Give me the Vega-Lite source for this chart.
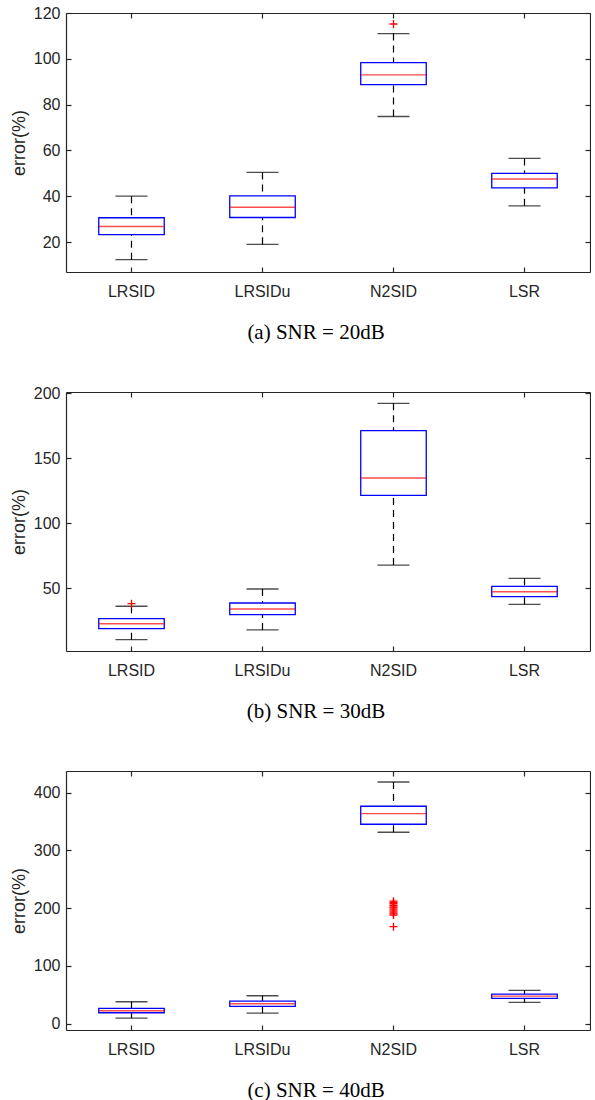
{
  "$schema": "https://vega.github.io/schema/vega-lite/v6.json",
  "background": "white",
  "padding": {"left": 10, "top": 5, "right": 0, "bottom": 0},
  "bounds": "flush",
  "spacing": 120,
  "config": {
    "view": {"stroke": null},
    "axis": {
      "domainColor": "#262626", "domainWidth": 1.2,
      "tickColor": "#262626", "tickWidth": 1.2, "tickSize": -5,
      "labelColor": "#262626", "labelFont": "Liberation Sans", "labelFontSize": 16,
      "titleColor": "#262626", "titleFont": "Liberation Sans", "titleFontSize": 18, "titleFontWeight": "normal",
      "grid": false
    },
    "title": {"font": "Liberation Serif", "fontSize": 21, "fontWeight": "normal", "color": "#000000", "orient": "bottom", "anchor": "middle", "frame": "group", "offset": 23, "dx": -12}
  },
  "datasets": {
    "boxes": [
      {"panel": "a", "method": "LRSID", "lower": 12.3, "q1": 23.2, "median": 26.8, "q3": 30.6, "upper": 40},
      {"panel": "a", "method": "LRSIDu", "lower": 19, "q1": 30.7, "median": 35.2, "q3": 40.1, "upper": 50.4},
      {"panel": "a", "method": "N2SID", "lower": 74.8, "q1": 88.7, "median": 93, "q3": 98.3, "upper": 111},
      {"panel": "a", "method": "LSR", "lower": 35.8, "q1": 43.6, "median": 47.5, "q3": 50, "upper": 56.5},
      {"panel": "b", "method": "LRSID", "lower": 10.5, "q1": 19, "median": 22.8, "q3": 26.7, "upper": 36.2},
      {"panel": "b", "method": "LRSIDu", "lower": 18, "q1": 29.7, "median": 34.1, "q3": 38.7, "upper": 49.5},
      {"panel": "b", "method": "N2SID", "lower": 67.9, "q1": 121.5, "median": 134.9, "q3": 171.3, "upper": 192.3},
      {"panel": "b", "method": "LSR", "lower": 37.7, "q1": 43.6, "median": 47.4, "q3": 51.5, "upper": 57.7},
      {"panel": "c", "method": "LRSID", "lower": 9.8, "q1": 19, "median": 22.5, "q3": 26.5, "upper": 38},
      {"panel": "c", "method": "LRSIDu", "lower": 18.4, "q1": 30, "median": 34.6, "q3": 39.2, "upper": 48.4},
      {"panel": "c", "method": "N2SID", "lower": 331.4, "q1": 345.2, "median": 363.7, "q3": 376.4, "upper": 418.4},
      {"panel": "c", "method": "LSR", "lower": 36.9, "q1": 43.8, "median": 47.8, "q3": 51.3, "upper": 57.6}
    ],
    "outliers": [
      {"panel": "a", "method": "N2SID", "value": 115.2},
      {"panel": "b", "method": "LRSID", "value": 38.2},
      {"panel": "c", "method": "N2SID", "value": 212},
      {"panel": "c", "method": "N2SID", "value": 210},
      {"panel": "c", "method": "N2SID", "value": 208},
      {"panel": "c", "method": "N2SID", "value": 205},
      {"panel": "c", "method": "N2SID", "value": 202},
      {"panel": "c", "method": "N2SID", "value": 200},
      {"panel": "c", "method": "N2SID", "value": 197},
      {"panel": "c", "method": "N2SID", "value": 195},
      {"panel": "c", "method": "N2SID", "value": 192},
      {"panel": "c", "method": "N2SID", "value": 190},
      {"panel": "c", "method": "N2SID", "value": 188},
      {"panel": "c", "method": "N2SID", "value": 168}
    ]
  },
  "resolve": {"scale": {"y": "independent"}},
  "vconcat": [
    {
      "width": 524, "height": 259,
      "title": {"text": "(a)  SNR = 20dB"},
      "layer": [
        {
          "data": {"name": "boxes"},
          "transform": [{"filter": "datum.panel === 'a'"}],
          "layer": [
            {"mark": {"type": "rule", "color": "#000000", "strokeDash": [7, 5], "strokeWidth": 1.2},
             "encoding": {
               "x": {"field": "method", "type": "nominal", "sort": ["LRSID", "LRSIDu", "N2SID", "LSR"], "scale": {"type": "band", "paddingInner": 0, "paddingOuter": 0}, "axis": {"orient": "bottom", "title": null, "labelAngle": 0, "labelPadding": 16}},
               "y": {"field": "lower", "type": "quantitative", "scale": {"domain": [6.9, 120], "nice": false, "zero": false}, "axis": {"orient": "left", "title": "error(%)", "values": [20, 40, 60, 80, 100, 120], "labelPadding": 11, "titlePadding": 5}},
               "y2": {"field": "q1"}
             }},
            {"mark": {"type": "rule", "color": "#000000", "strokeDash": [7, 5], "strokeWidth": 1.2},
             "encoding": {
               "x": {"field": "method", "type": "nominal", "sort": ["LRSID", "LRSIDu", "N2SID", "LSR"], "axis": {"orient": "top", "title": null, "labels": false}},
               "y": {"field": "upper", "type": "quantitative", "axis": {"orient": "right", "title": null, "labels": false, "values": [20, 40, 60, 80, 100, 120]}},
               "y2": {"field": "q3"}
             }},
            {"mark": {"type": "tick", "color": "#000000", "size": 32, "thickness": 1.3},
             "encoding": {"x": {"field": "method", "type": "nominal", "sort": ["LRSID", "LRSIDu", "N2SID", "LSR"], "axis": null}, "y": {"field": "lower", "type": "quantitative", "axis": null}}},
            {"mark": {"type": "tick", "color": "#000000", "size": 32, "thickness": 1.3},
             "encoding": {"x": {"field": "method", "type": "nominal", "sort": ["LRSID", "LRSIDu", "N2SID", "LSR"], "axis": null}, "y": {"field": "upper", "type": "quantitative", "axis": null}}},
            {"mark": {"type": "bar", "fillOpacity": 0, "stroke": "#0000FF", "strokeWidth": 1.3, "width": {"band": 0.5}},
             "encoding": {"x": {"field": "method", "type": "nominal", "sort": ["LRSID", "LRSIDu", "N2SID", "LSR"], "axis": null}, "y": {"field": "q1", "type": "quantitative", "axis": null}, "y2": {"field": "q3"}}},
            {"mark": {"type": "tick", "color": "#FF0000", "size": 65, "thickness": 1.4},
             "encoding": {"x": {"field": "method", "type": "nominal", "sort": ["LRSID", "LRSIDu", "N2SID", "LSR"], "axis": null}, "y": {"field": "median", "type": "quantitative", "axis": null}}}
          ]
        },
        {
          "data": {"name": "outliers"},
          "transform": [{"filter": "datum.panel === 'a'"}],
          "mark": {"type": "point", "shape": "M-1,0L1,0M0,-1L0,1", "filled": false, "stroke": "#FF0000", "strokeWidth": 1.3, "size": 64, "opacity": 1},
          "encoding": {"x": {"field": "method", "type": "nominal", "sort": ["LRSID", "LRSIDu", "N2SID", "LSR"], "axis": null}, "y": {"field": "value", "type": "quantitative", "axis": null}}
        }
      ]
    },
    {
      "width": 524, "height": 259,
      "title": {"text": "(b)  SNR = 30dB"},
      "layer": [
        {
          "data": {"name": "boxes"},
          "transform": [{"filter": "datum.panel === 'b'"}],
          "layer": [
            {"mark": {"type": "rule", "color": "#000000", "strokeDash": [7, 5], "strokeWidth": 1.2},
             "encoding": {
               "x": {"field": "method", "type": "nominal", "sort": ["LRSID", "LRSIDu", "N2SID", "LSR"], "scale": {"type": "band", "paddingInner": 0, "paddingOuter": 0}, "axis": {"orient": "bottom", "title": null, "labelAngle": 0, "labelPadding": 16}},
               "y": {"field": "lower", "type": "quantitative", "scale": {"domain": [1.8, 201], "nice": false, "zero": false}, "axis": {"orient": "left", "title": "error(%)", "values": [50, 100, 150, 200], "labelPadding": 11, "titlePadding": 5}},
               "y2": {"field": "q1"}
             }},
            {"mark": {"type": "rule", "color": "#000000", "strokeDash": [7, 5], "strokeWidth": 1.2},
             "encoding": {
               "x": {"field": "method", "type": "nominal", "sort": ["LRSID", "LRSIDu", "N2SID", "LSR"], "axis": {"orient": "top", "title": null, "labels": false}},
               "y": {"field": "upper", "type": "quantitative", "axis": {"orient": "right", "title": null, "labels": false, "values": [50, 100, 150, 200]}},
               "y2": {"field": "q3"}
             }},
            {"mark": {"type": "tick", "color": "#000000", "size": 32, "thickness": 1.3},
             "encoding": {"x": {"field": "method", "type": "nominal", "sort": ["LRSID", "LRSIDu", "N2SID", "LSR"], "axis": null}, "y": {"field": "lower", "type": "quantitative", "axis": null}}},
            {"mark": {"type": "tick", "color": "#000000", "size": 32, "thickness": 1.3},
             "encoding": {"x": {"field": "method", "type": "nominal", "sort": ["LRSID", "LRSIDu", "N2SID", "LSR"], "axis": null}, "y": {"field": "upper", "type": "quantitative", "axis": null}}},
            {"mark": {"type": "bar", "fillOpacity": 0, "stroke": "#0000FF", "strokeWidth": 1.3, "width": {"band": 0.5}},
             "encoding": {"x": {"field": "method", "type": "nominal", "sort": ["LRSID", "LRSIDu", "N2SID", "LSR"], "axis": null}, "y": {"field": "q1", "type": "quantitative", "axis": null}, "y2": {"field": "q3"}}},
            {"mark": {"type": "tick", "color": "#FF0000", "size": 65, "thickness": 1.4},
             "encoding": {"x": {"field": "method", "type": "nominal", "sort": ["LRSID", "LRSIDu", "N2SID", "LSR"], "axis": null}, "y": {"field": "median", "type": "quantitative", "axis": null}}}
          ]
        },
        {
          "data": {"name": "outliers"},
          "transform": [{"filter": "datum.panel === 'b'"}],
          "mark": {"type": "point", "shape": "M-1,0L1,0M0,-1L0,1", "filled": false, "stroke": "#FF0000", "strokeWidth": 1.3, "size": 64, "opacity": 1},
          "encoding": {"x": {"field": "method", "type": "nominal", "sort": ["LRSID", "LRSIDu", "N2SID", "LSR"], "axis": null}, "y": {"field": "value", "type": "quantitative", "axis": null}}
        }
      ]
    },
    {
      "width": 524, "height": 259,
      "title": {"text": "(c)  SNR = 40dB"},
      "layer": [
        {
          "data": {"name": "boxes"},
          "transform": [{"filter": "datum.panel === 'c'"}],
          "layer": [
            {"mark": {"type": "rule", "color": "#000000", "strokeDash": [7, 5], "strokeWidth": 1.2},
             "encoding": {
               "x": {"field": "method", "type": "nominal", "sort": ["LRSID", "LRSIDu", "N2SID", "LSR"], "scale": {"type": "band", "paddingInner": 0, "paddingOuter": 0}, "axis": {"orient": "bottom", "title": null, "labelAngle": 0, "labelPadding": 16}},
               "y": {"field": "lower", "type": "quantitative", "scale": {"domain": [-10.9, 437.4], "nice": false, "zero": false}, "axis": {"orient": "left", "title": "error(%)", "values": [0, 100, 200, 300, 400], "labelPadding": 11, "titlePadding": 5}},
               "y2": {"field": "q1"}
             }},
            {"mark": {"type": "rule", "color": "#000000", "strokeDash": [7, 5], "strokeWidth": 1.2},
             "encoding": {
               "x": {"field": "method", "type": "nominal", "sort": ["LRSID", "LRSIDu", "N2SID", "LSR"], "axis": {"orient": "top", "title": null, "labels": false}},
               "y": {"field": "upper", "type": "quantitative", "axis": {"orient": "right", "title": null, "labels": false, "values": [0, 100, 200, 300, 400]}},
               "y2": {"field": "q3"}
             }},
            {"mark": {"type": "tick", "color": "#000000", "size": 32, "thickness": 1.3},
             "encoding": {"x": {"field": "method", "type": "nominal", "sort": ["LRSID", "LRSIDu", "N2SID", "LSR"], "axis": null}, "y": {"field": "lower", "type": "quantitative", "axis": null}}},
            {"mark": {"type": "tick", "color": "#000000", "size": 32, "thickness": 1.3},
             "encoding": {"x": {"field": "method", "type": "nominal", "sort": ["LRSID", "LRSIDu", "N2SID", "LSR"], "axis": null}, "y": {"field": "upper", "type": "quantitative", "axis": null}}},
            {"mark": {"type": "bar", "fillOpacity": 0, "stroke": "#0000FF", "strokeWidth": 1.3, "width": {"band": 0.5}},
             "encoding": {"x": {"field": "method", "type": "nominal", "sort": ["LRSID", "LRSIDu", "N2SID", "LSR"], "axis": null}, "y": {"field": "q1", "type": "quantitative", "axis": null}, "y2": {"field": "q3"}}},
            {"mark": {"type": "tick", "color": "#FF0000", "size": 65, "thickness": 1.4},
             "encoding": {"x": {"field": "method", "type": "nominal", "sort": ["LRSID", "LRSIDu", "N2SID", "LSR"], "axis": null}, "y": {"field": "median", "type": "quantitative", "axis": null}}}
          ]
        },
        {
          "data": {"name": "outliers"},
          "transform": [{"filter": "datum.panel === 'c'"}],
          "mark": {"type": "point", "shape": "M-1,0L1,0M0,-1L0,1", "filled": false, "stroke": "#FF0000", "strokeWidth": 1.3, "size": 64, "opacity": 1},
          "encoding": {"x": {"field": "method", "type": "nominal", "sort": ["LRSID", "LRSIDu", "N2SID", "LSR"], "axis": null}, "y": {"field": "value", "type": "quantitative", "axis": null}}
        }
      ]
    }
  ]
}
